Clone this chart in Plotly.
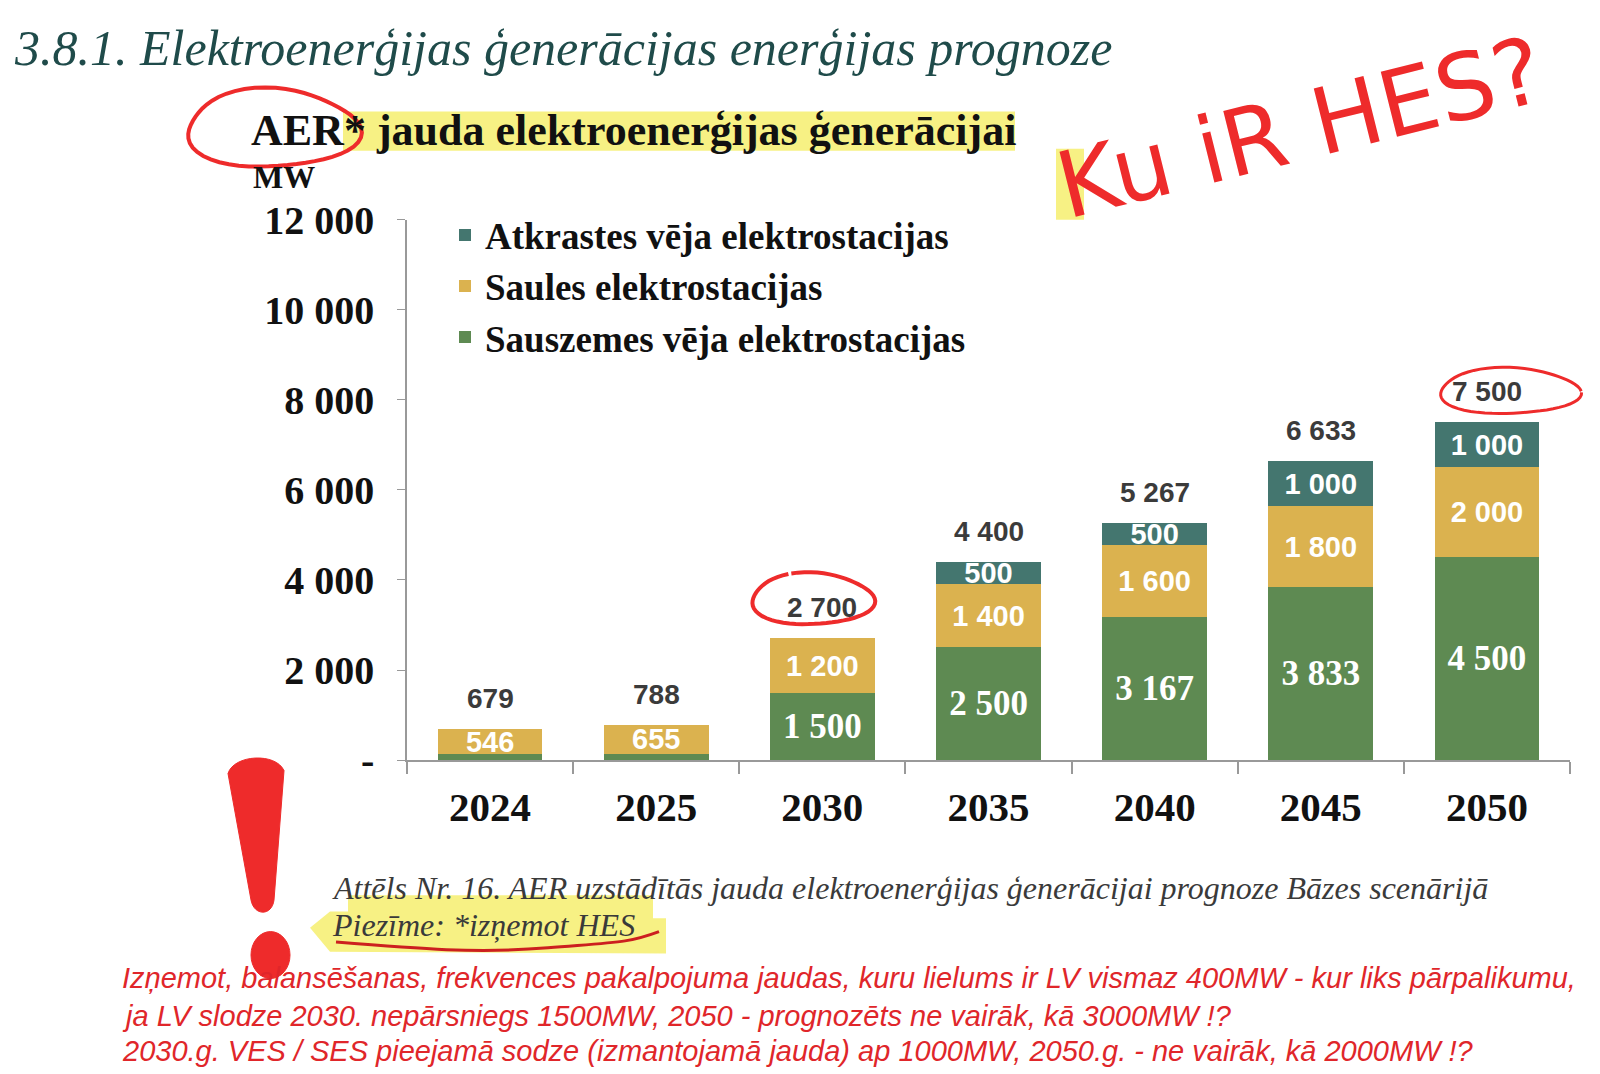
import math
import plotly.graph_objects as go

W, H = 1600, 1074

# ---------------- data ----------------
years = ["2024", "2025", "2030", "2035", "2040", "2045", "2050"]
onshore_wind = [133, 133, 1500, 2500, 3167, 3833, 4500]      # Sauszemes vēja elektrostacijas
solar = [546, 655, 1200, 1400, 1600, 1800, 2000]             # Saules elektrostacijas
offshore_wind = [0, 0, 0, 500, 500, 1000, 1000]              # Atkrastes vēja elektrostacijas
totals = [679, 788, 2700, 4400, 5267, 6633, 7500]
y_tick_values = [0, 2000, 4000, 6000, 8000, 10000, 12000]
y_tick_labels = ["-", "2 000", "4 000", "6 000", "8 000", "10 000", "12 000"]

series_names = ["Sauszemes vēja elektrostacijas", "Saules elektrostacijas",
                "Atkrastes vēja elektrostacijas"]
colors = ["#5e8a52", "#dbb24f", "#44766f"]

SERIF = "Liberation Serif, DejaVu Serif, serif"
SANS = "Liberation Sans, Arial, sans-serif"
RED = "#ee2b2b"


def fmt(v):
    return f"{v:,}".replace(",", " ")


def px(x):
    return x / W


def py(y):
    return 1 - y / H


def labels(vals, minimum=300):
    return [fmt(v) if v >= minimum else "" for v in vals]


fig = go.Figure()
series = [onshore_wind, solar, offshore_wind]
label_fonts = [
    dict(family=SERIF, size=35, color="white", weight="bold"),
    dict(family=SANS, size=29, color="white", weight="bold"),
    dict(family=SANS, size=29, color="white", weight="bold"),
]
for vals, name, col, lf in zip(series, series_names, colors, label_fonts):
    fig.add_trace(go.Bar(
        x=years, y=vals, name=name, marker=dict(color=col, line=dict(width=0)),
        text=labels(vals), textposition="inside", insidetextanchor="middle",
        textangle=0, constraintext="none", textfont=lf, cliponaxis=False,
        hoverinfo="skip",
    ))

# totals above bars (category axis -> category index)
for i, t in enumerate(totals):
    fig.add_annotation(x=i, y=t, xref="x", yref="y", text=fmt(t), showarrow=False,
                       xanchor="center", yanchor="bottom", yshift=13,
                       font=dict(family=SANS, size=28, color="#3b3b3b", weight="bold"))

# ---------------- page texts ----------------
texts = [
    dict(x=4, y=19, text="<i>3.8.1. Elektroenerģijas ģenerācijas enerģijas prognoze</i>",
         size=50, family=SERIF, color="#1f4b4a"),
    dict(x=241, y=105, text="<b>AER* jauda elektroenerģijas ģenerācijai</b>",
         size=44, family=SERIF, color="#111111"),
    dict(x=243, y=153, text="<b>MW</b>", size=32, family=SERIF, color="#111111"),
    dict(x=322, y=896,
         text="<i>Attēls Nr. 16. AER uzstādītās jauda elektroenerģijas ģenerācijai prognoze Bāzes scenārijā</i>",
         size=32, family=SERIF, color="#3a3a3a"),
    dict(x=322, y=934, text="<i>Piezīme: *izņemot HES</i>",
         size=32, family=SERIF, color="#3a3a3a"),
    dict(x=112, y=989,
         text="<i>Izņemot, balansēšanas, frekvences pakalpojuma jaudas, kuru lielums ir LV vismaz 400MW - kur liks pārpalikumu,</i>",
         size=29, family=SANS, color="#e0262a"),
    dict(x=112, y=1029,
         text="<i>ja LV slodze 2030. nepārsniegs 1500MW, 2050 - prognozēts ne vairāk, kā 3000MW !?</i>",
         size=29, family=SANS, color="#e0262a"),
    dict(x=112, y=1066,
         text="<i>2030.g. VES / SES pieejamā sodze (izmantojamā jauda) ap 1000MW, 2050.g. - ne vairāk, kā 2000MW !?</i>",
         size=29, family=SANS, color="#e0262a"),
]
for t in texts:
    fig.add_annotation(x=px(t["x"]), y=py(t["y"]), xref="paper", yref="paper",
                       text=t["text"], showarrow=False, xanchor="left", yanchor="middle",
                       font=dict(family=t["family"], size=t["size"], color=t["color"]))

# handwritten remark
fig.add_annotation(x=px(1292), y=py(103), xref="paper", yref="paper", text="Ku iR HES?",
                   showarrow=False, textangle=-14, xanchor="center", yanchor="middle",
                   font=dict(family="DejaVu Sans, sans-serif", size=92, color=RED))

# ---------------- decorative shapes ----------------
shapes = []
HL = "#f6ef6e"
shapes.append(dict(type="rect", xref="paper", yref="paper", layer="below",
                   x0=px(335), x1=px(1007), y0=py(126), y1=py(85),
                   fillcolor=HL, line=dict(width=0), opacity=0.85))
shapes.append(dict(type="path", xref="paper", yref="paper", layer="below",
                   path=f"M{px(340)},{py(903)} L{px(645)},{py(903)} L{px(645)},{py(927)} "
                        f"L{px(658)},{py(927)} L{px(658)},{py(964)} L{px(322)},{py(962)} "
                        f"L{px(302)},{py(937)} L{px(322)},{py(920)} L{px(340)},{py(920)} Z",
                   fillcolor=HL, line=dict(width=0), opacity=0.85))
shapes.append(dict(type="rect", xref="paper", yref="paper", layer="below",
                   x0=px(1048), x1=px(1076), y0=py(198), y1=py(124),
                   fillcolor=HL, line=dict(width=0), opacity=0.85))


def hand_ellipse(cx, cy, rx, ry, a0, a1, n=60, wob=0.04):
    pts = []
    for i in range(n + 1):
        a = a0 + (a1 - a0) * i / n
        r = 1 + wob * math.sin(3 * a + 0.7)
        pts.append((cx + rx * r * math.cos(a), cy + ry * r * math.sin(a)))
    return "M" + " L".join(f"{px(x):.5f},{py(y):.5f}" for x, y in pts)


red_line = dict(color=RED, width=4)
shapes.append(dict(type="path", xref="paper", yref="paper",
                   path=hand_ellipse(264, 103, 86, 41, -0.6, 2 * math.pi + 0.1, wob=0.06),
                   line=red_line))
shapes.append(dict(type="path", xref="paper", yref="paper",
                   path=hand_ellipse(804, 594, 61, 27, -1.9, 2 * math.pi - 1.95, wob=0.05),
                   line=red_line))
shapes.append(dict(type="path", xref="paper", yref="paper",
                   path=hand_ellipse(1501, 377, 70, 24, 0.05, 2 * math.pi, wob=0.05),
                   line=dict(color=RED, width=3)))
# underline under Piezīme
shapes.append(dict(type="path", xref="paper", yref="paper",
                   path=f"M{px(328)},{py(952)} C{px(410)},{py(959)} {px(470)},{py(964)} "
                        f"{px(540)},{py(958)} S{px(620)},{py(953)} {px(651)},{py(941)}",
                   line=dict(color="#cc1f1f", width=3)))
# exclamation mark
shapes.append(dict(type="path", xref="paper", yref="paper",
                   path=f"M{px(220)},{py(776)} C{px(226)},{py(756)} {px(268)},{py(754)} {px(276)},{py(773)} "
                        f"L{px(266)},{py(908)} C{px(264)},{py(925)} {px(246)},{py(925)} {px(243)},{py(908)} Z",
                   fillcolor=RED, line=dict(color=RED, width=1)))
shapes.append(dict(type="circle", xref="paper", yref="paper",
                   x0=px(243), x1=px(282), y0=py(990), y1=py(941),
                   fillcolor=RED, line=dict(color=RED, width=1)))

fig.update_layout(
    width=W, height=H, margin=dict(l=0, r=0, t=0, b=0),
    paper_bgcolor="white", plot_bgcolor="white",
    barmode="stack", bargap=0.37,
    shapes=shapes,
    showlegend=True,
    legend=dict(x=px(437), y=py(182), xanchor="left", yanchor="top",
                traceorder="reversed", bgcolor="rgba(0,0,0,0)",
                font=dict(family=SERIF, size=37, color="#111111", weight="bold"),
                itemwidth=30, tracegroupgap=0),
    xaxis=dict(domain=[px(399), px(1562)], type="category",
               showline=True, linecolor="#999999", linewidth=2,
               ticks="outside", tickson="boundaries", ticklen=12, tickcolor="#999999",
               tickwidth=1.5, showgrid=False,
               tickfont=dict(family=SERIF, size=41, color="#111111", weight="bold"),
               ticklabelstandoff=10),
    yaxis=dict(domain=[py(762), py(198)], range=[0, 12000],
               tickvals=y_tick_values, ticktext=y_tick_labels,
               showline=True, linecolor="#999999", linewidth=1.5,
               ticks="outside", ticklen=8, tickcolor="#999999", showgrid=False,
               zeroline=False,
               tickfont=dict(family=SERIF, size=40, color="#111111", weight="bold"),
               ticklabelstandoff=15),
)

fig.write_html("out.html")
